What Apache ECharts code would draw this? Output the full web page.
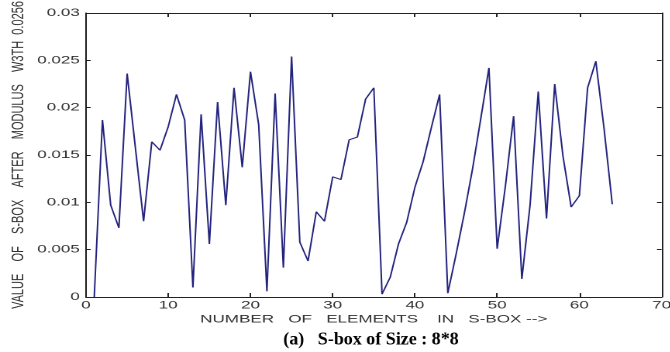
<!DOCTYPE html>
<html>
<head>
<meta charset="utf-8">
<script src="https://cdn.jsdelivr.net/npm/echarts@6/dist/echarts.min.js"></script>
<style>
  html, body { margin: 0; padding: 0; background: #fff; overflow: hidden; }
  /* the source figure is a matlab plot stretched sideways, so the whole chart is drawn narrow and stretched */
  #chart { width: 432.26px; height: 352px; transform: scaleX(1.55); transform-origin: 0 0; }
</style>
</head>
<body>
<div id="chart"></div>
<script>
var STRETCH = 1.55;

// element index in the s-box, 1..64
var elementIndex = [];
for (var i = 1; i <= 64; i++) elementIndex.push(i);

// value after modulus
var sboxValues = [
    0.0000, 0.0187, 0.0097, 0.0073, 0.0236, 0.0158, 0.0080, 0.0164,
    0.0155, 0.0180, 0.0214, 0.0187, 0.0010, 0.0193, 0.0056, 0.0206,
    0.0097, 0.0221, 0.0137, 0.0238, 0.0182, 0.0006, 0.0215, 0.0031,
    0.0254, 0.0058, 0.0038, 0.0090, 0.0080, 0.0127, 0.0124, 0.0166,
    0.0169, 0.0209, 0.0221, 0.0003, 0.0021, 0.0056, 0.0079, 0.0116,
    0.0143, 0.0179, 0.0214, 0.0004, 0.0045, 0.0088, 0.0135, 0.0188,
    0.0242, 0.0051, 0.0117, 0.0191, 0.0019, 0.0097, 0.0217, 0.0083,
    0.0225, 0.0149, 0.0095, 0.0107, 0.0221, 0.0249, 0.0178, 0.0098
];

var xTicks = [0, 70, 10];      // min, max, step
var yTicks = [0, 0.03, 0.005];

var axisColor = '#222';
var labelFont = { color: '#333', fontSize: 11, fontFamily: 'Liberation Sans, Arial, sans-serif' };

var chart = echarts.init(document.getElementById('chart'), null, { renderer: 'canvas', devicePixelRatio: 2 });

var points = elementIndex.map(function (x, k) { return [x, sboxValues[k]]; });

var frameX = function (pos, showLabel) {
    return {
        type: 'value', position: pos,
        min: xTicks[0], max: xTicks[1], interval: xTicks[2],
        axisLine: { show: true, onZero: false, lineStyle: { color: axisColor, width: 1 } },
        axisTick: { show: true, inside: true, length: 4, lineStyle: { color: axisColor } },
        axisLabel: showLabel ? Object.assign({ margin: 3 }, labelFont) : { show: false },
        splitLine: { show: false }
    };
};
var frameY = function (pos, showLabel) {
    return {
        type: 'value', position: pos,
        min: yTicks[0], max: yTicks[1], interval: yTicks[2],
        axisLine: { show: true, onZero: false, lineStyle: { color: axisColor, width: 1 } },
        axisTick: { show: true, inside: true, length: 3, lineStyle: { color: axisColor } },
        axisLabel: showLabel ? Object.assign({
            margin: 4,
            formatter: function (v) { return String(+v.toFixed(3)); }
        }, labelFont) : { show: false },
        splitLine: { show: false }
    };
};

var xBottom = frameX('bottom', true);
xBottom.name = 'NUMBER   OF   ELEMENTS    IN   S-BOX -->';
xBottom.nameLocation = 'middle';
xBottom.nameGap = 17;
xBottom.nameMoveOverlap = false;
xBottom.nameTextStyle = labelFont;

var yLeft = frameY('left', true);
yLeft.name = 'VALUE    OF    S-BOX    AFTER    MODULUS    W3TH  0.0256';
yLeft.nameLocation = 'middle';
yLeft.nameGap = 38;
yLeft.nameMoveOverlap = false;
yLeft.nameTextStyle = labelFont;

var option = {
    backgroundColor: '#fff',
    animation: false,
    grid: { left: 86 / STRETCH, right: 8 / STRETCH, top: 13, bottom: 55, outerBoundsMode: 'none' },
    xAxis: [xBottom, frameX('top', false)],
    yAxis: [yLeft, frameY('right', false)],
    // caption sits outside the stretched figure, so undo the stretch on it
    graphic: [{
        type: 'text',
        x: 371 / STRETCH, y: 340,
        scaleX: 1 / STRETCH,
        style: {
            text: '(a)   S-box of Size : 8*8',
            align: 'center', verticalAlign: 'middle',
            fill: '#000', fontSize: 18, fontWeight: 'bold',
            fontFamily: 'Liberation Serif, Times New Roman, serif'
        }
    }],
    series: [{
        type: 'line',
        data: points,
        showSymbol: false,
        lineStyle: { color: '#24247e', width: 1 }
    }]
};

chart.setOption(option);
</script>
</body>
</html>
